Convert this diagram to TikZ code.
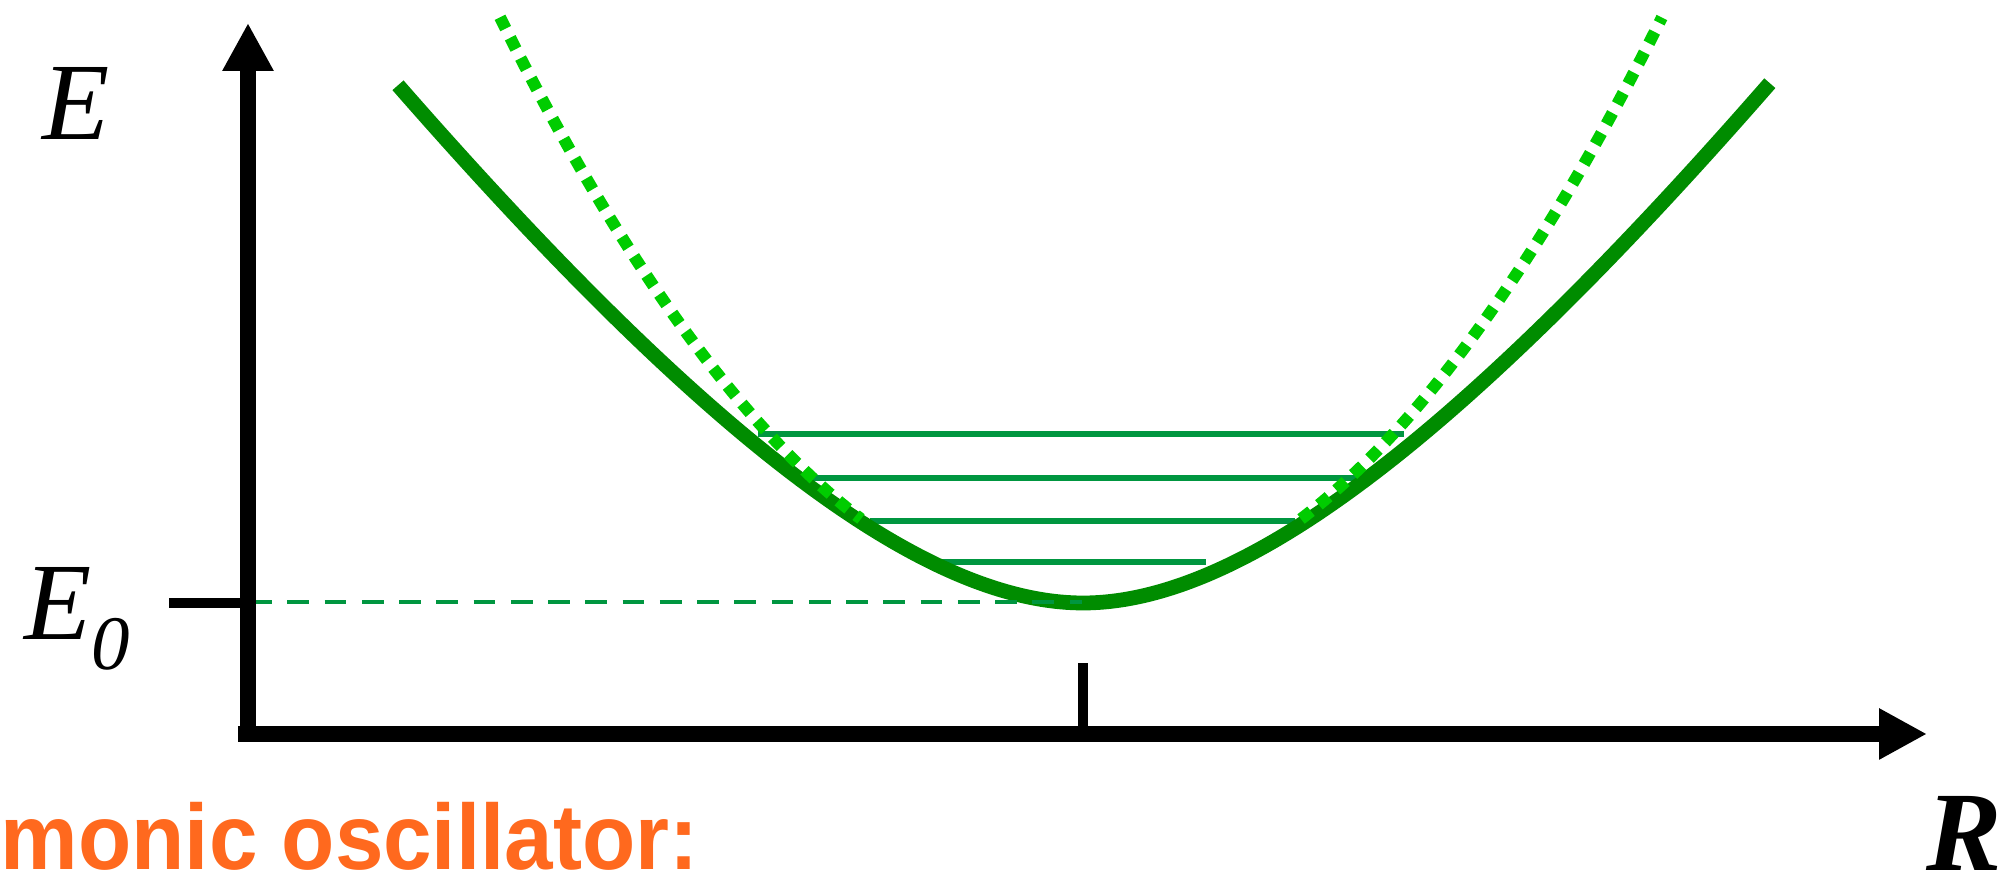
\documentclass[tikz,border=0pt]{standalone}
\usepackage{fontspec}
\setmainfont{Liberation Serif}
\newfontfamily\titlefont[FakeStretch=0.94]{Liberation Sans}
\usetikzlibrary{arrows.meta, positioning, calc}
\definecolor{curvegreen}{RGB}{0, 140, 0}
\definecolor{harmgreen}{RGB}{0, 204, 0}
\definecolor{levelgreen}{RGB}{0, 150, 64}
\definecolor{titleorange}{RGB}{255, 105, 30}

\begin{document}
\begin{tikzpicture}[
    axis/.style={line width=4.4pt, -{Triangle[length=4.8mm, width=4.8mm]}},
    tickmark/.style={line width=3.1pt},
    potential/.style={line width=4.2pt, draw=curvegreen},
    harmonic/.style={line width=3.4pt, draw=harmgreen, dash pattern=on 3.6pt off 2.9pt},
    level/.style={line width=1.5pt, draw=levelgreen},
    zeroline/.style={line width=1.4pt, draw=levelgreen, dash pattern=on 6.2pt off 4.4pt},
    axislabel/.style={font=\fontsize{31.3}{31.3}\selectfont\itshape, inner sep=0pt, anchor=base west}
]

    \clip (0,0) rectangle (20.08,8.76);

    \coordinate (corner) at (2.38,1.42);
    \coordinate (ybase) at (2.48,1.35);
    \coordinate (ytip) at (2.48,8.53);
    \coordinate (xtip) at (19.27,1.42);
    \coordinate (rzero) at (10.83,1.42);
    \coordinate (rzerotop) at (10.83,2.13);
    \coordinate (ezerotick) at (1.69,2.73);
    \coordinate (ezeroaxis) at (2.48,2.73);
    \coordinate (ezerostart) at (2.50,2.74);
    \coordinate (ezeroend) at (10.82,2.74);

    \draw[level] (7.58,4.42) -- (14.04,4.42);
    \draw[level] (8.13,3.98) -- (13.56,3.98);
    \draw[level] (8.70,3.55) -- (12.95,3.55);
    \draw[level] (9.33,3.14) -- (12.06,3.14);

    \draw[potential] plot[domain=3.98:17.70, samples=120, smooth]
        (\x, {2.73 + 0.2147*(\x-10.83)^2/(1+0.1381*abs(\x-10.83))});

    \draw[harmonic] plot[domain=5.00:8.61, samples=60, smooth]
        (\x, {2.73 + 0.1735*(\x-10.81)^2});
    \draw[harmonic] plot[domain=13.01:16.62, samples=60, smooth]
        (\x, {2.73 + 0.1735*(\x-10.81)^2});

    \draw[zeroline] (ezerostart) -- (ezeroend);

    \draw[axis] (ybase) -- (ytip);
    \draw[axis] (corner) -- (xtip);
    \draw[tickmark] (rzero) -- (rzerotop);
    \draw[tickmark] (ezerotick) -- (ezeroaxis);

    \node[axislabel] (elabel) at (0.42,7.36) {E};
    \node[axislabel] (ezerolabel) at (0.24,2.36) {E\raisebox{-0.30cm}{\fontsize{21.9}{22}\selectfont 0}};
    \node[axislabel, font=\fontsize{32.2}{32.2}\selectfont\bfseries\itshape] (rlabel) at (19.26,0.05) {R};
    \node[anchor=base west, inner sep=0pt, text=titleorange,
        font=\titlefont\bfseries\fontsize{26.4}{26.4}\selectfont] (title) at (0.0,0.06) {monic oscillator:};

\end{tikzpicture}
\end{document}
